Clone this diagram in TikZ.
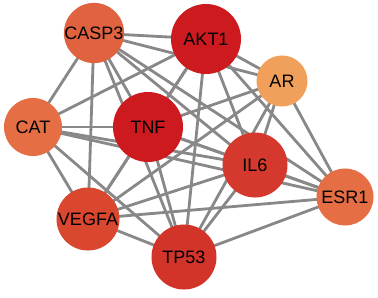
\documentclass[tikz,border=0pt]{standalone}
\usepackage{fontspec}
\setmainfont{Liberation Sans}
\pgfdeclarelayer{bg}
\pgfsetlayers{bg,main}
\definecolor{deepred}{HTML}{CC1A1F}
\definecolor{midred}{HTML}{D5382C}
\definecolor{tpred}{HTML}{D33429}
\definecolor{vegred}{HTML}{D9472F}
\definecolor{casporange}{HTML}{E0623F}
\definecolor{catorange}{HTML}{E56E45}
\definecolor{arorange}{HTML}{F0A05A}
\definecolor{edgegray}{HTML}{888888}
\begin{document}
\begin{tikzpicture}[x=0.025cm, y=-0.025cm,
        gene/.style 2 args={circle, fill=#1, inner sep=0pt, minimum size=#2*0.05cm,
            font=\fontsize{12.8}{14}\selectfont, text=black},
        link/.style={edgegray, line width=2pt}]
    \useasboundingbox (0,0) rectangle (378,298);

    % genes
    \node[gene={casporange}{29}] (casp3) at (94,33) {CASP3};
    \node[gene={deepred}{35}] (akt1) at (206,39) {AKT1};
    \node[gene={arorange}{25.5}] (ar) at (282,81) {AR};
    \node[gene={catorange}{29}] (cat) at (33,127) {CAT};
    \node[gene={deepred}{35}] (tnf) at (148,127) {TNF};
    \node[gene={midred}{32.5}] (il6) at (255,165) {IL6};
    \node[gene={catorange}{28.5}] (esr1) at (345,197) {ESR1};
    \node[gene={vegred}{31.5}] (vegfa) at (88,219) {VEGFA};
    \node[gene={tpred}{32.5}] (tp53) at (184,257) {TP53};

    % interactions
    \begin{pgfonlayer}{bg}
        \foreach \a/\b in {casp3/akt1, casp3/ar, casp3/cat, casp3/tnf, casp3/il6,
                casp3/esr1, casp3/vegfa, casp3/tp53,
                akt1/ar, akt1/cat, akt1/tnf, akt1/il6, akt1/esr1, akt1/vegfa, akt1/tp53,
                ar/tnf, ar/il6, ar/esr1, ar/vegfa, ar/tp53,
                cat/tnf, cat/il6, cat/esr1, cat/vegfa, cat/tp53,
                tnf/il6, tnf/esr1, tnf/vegfa, tnf/tp53,
                il6/esr1, il6/vegfa, il6/tp53,
                esr1/vegfa, esr1/tp53,
                vegfa/tp53}
            \draw[link] (\a.center) -- (\b.center);
    \end{pgfonlayer}
\end{tikzpicture}
\end{document}
